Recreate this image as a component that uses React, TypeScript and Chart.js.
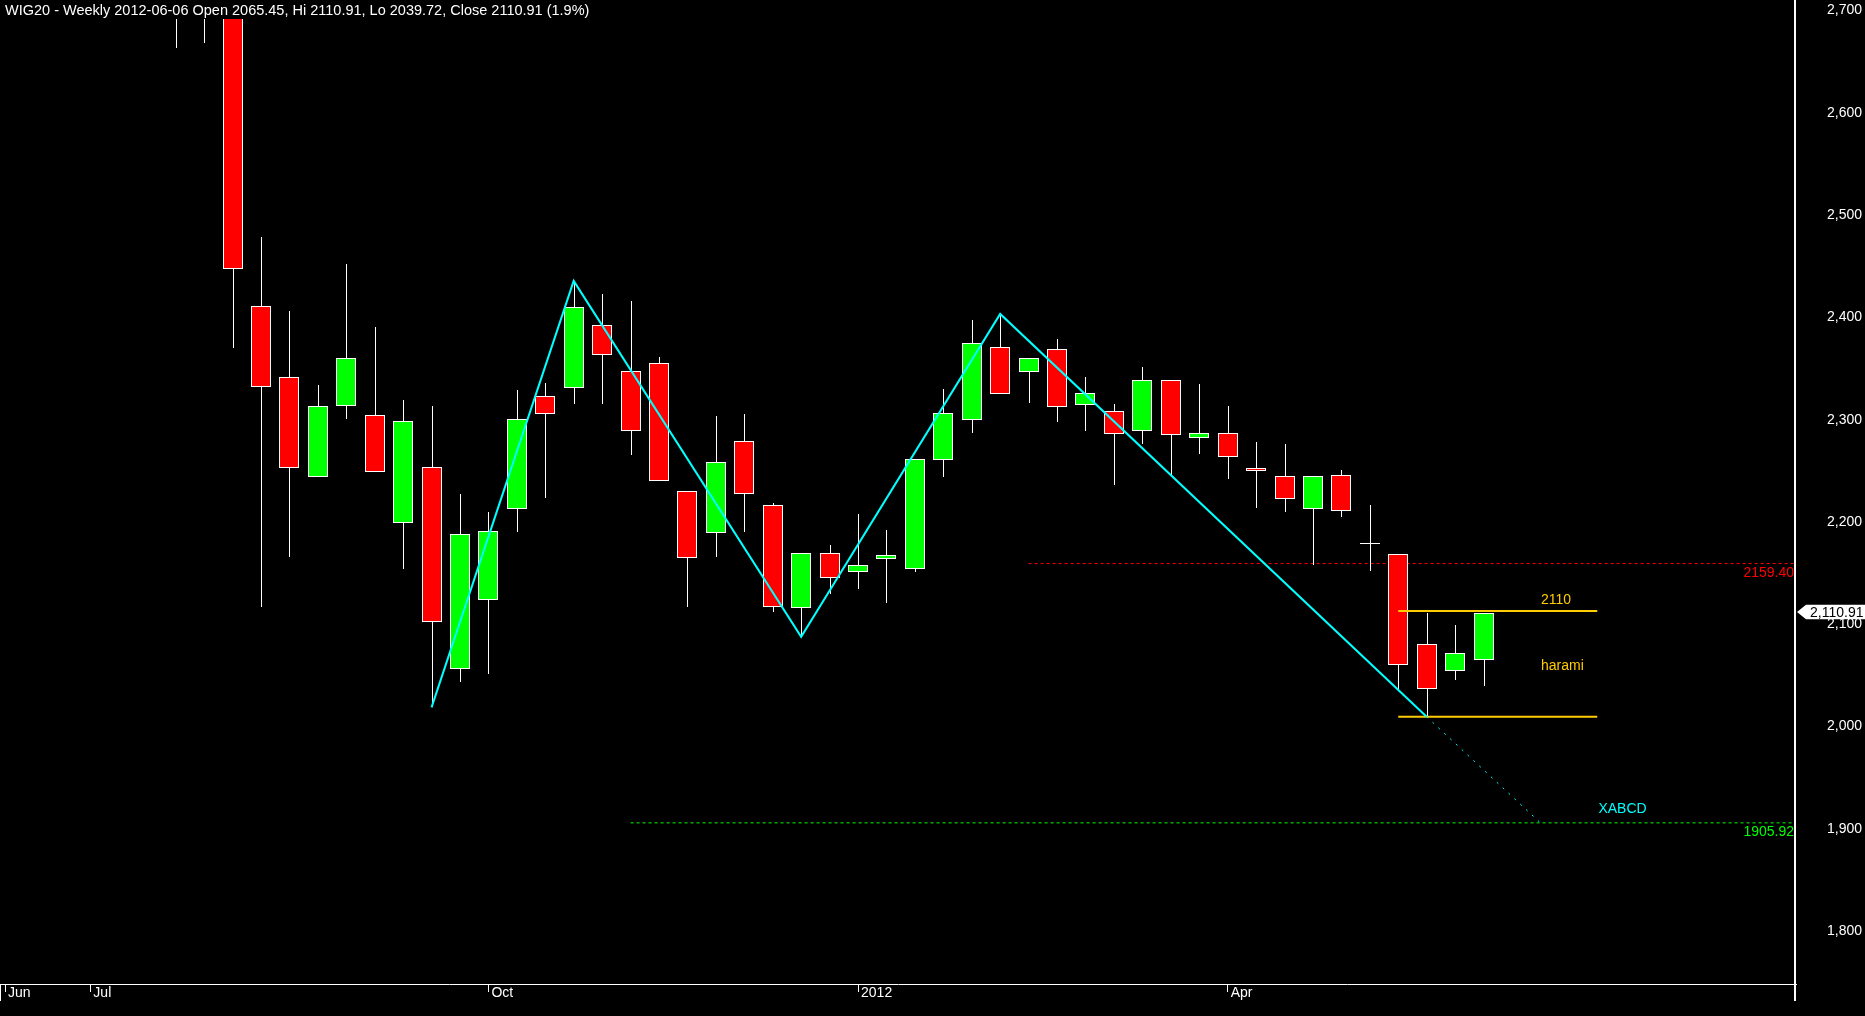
import React, { useEffect, useRef } from 'react';
import { Chart, registerables } from 'chart.js';

Chart.register(...registerables);

const W = 1865;
const H = 1016;

// ---- Weekly WIG20 candles (index 0 = first week of June 2011, index 52 = 2012-06-06) ----
const opens = [
  2830, 2845, 2890, 2858, 2812, 2840, 2762, 2781, 2755, 2411,
  2342, 2244.4, 2313, 2305, 2199, 2253.4, 2056, 2123.5, 2213, 2323,
  2330.7, 2392.4, 2347.3, 2355.2, 2230, 2189, 2279, 2216.3, 2115.5, 2169.3,
  2150.8, 2163.9, 2153.8, 2260.3, 2299.5, 2370.8, 2346.4, 2368.8, 2314.1, 2308.3,
  2288.8, 2338.6, 2281.8, 2286.7, 2253, 2244.8, 2212.4, 2246.2, 2179.1, 2168.3,
  2080.3, 2054.5, 2065.45,
];
const highs = [
  2862, 2905, 2920, 2880, 2860, 2870, 2800, 2808, 2766, 2479,
  2406, 2334.2, 2452, 2391, 2319.4, 2313.5, 2227.3, 2209.8, 2329.3, 2336,
  2435.7, 2423, 2416, 2361.4, 2230, 2303.6, 2305.6, 2218.2, 2169.3, 2177.4,
  2207.8, 2192.1, 2261.7, 2330.1, 2397.6, 2403.4, 2360.1, 2379, 2341.8, 2315.4,
  2351.6, 2338.8, 2334.9, 2313.4, 2278.2, 2276.2, 2244.8, 2250.8, 2216.6, 2168.3,
  2110.6, 2099.2, 2110.91,
];
const lows = [
  2781, 2830, 2842, 2790, 2772, 2745, 2663, 2668, 2370.5, 2117,
  2166, 2244.4, 2300.5, 2249, 2154.5, 2018.8, 2043.6, 2051.2, 2190.5, 2223,
  2315.4, 2315.4, 2265.8, 2240, 2117, 2166, 2190, 2112.2, 2087.8, 2129.2,
  2134.7, 2120.4, 2151.3, 2244.3, 2287.4, 2324.8, 2316.7, 2298, 2289.3, 2236.4,
  2276.5, 2245.9, 2266.8, 2242.3, 2213.9, 2210, 2157.9, 2204.8, 2152.3, 2036.2,
  2009.6, 2045.4, 2039.72,
];
const closes = [
  2845, 2890, 2858, 2812, 2840, 2760, 2781, 2755, 2447, 2332,
  2252.5, 2313, 2360.3, 2249, 2298.7, 2102, 2188.7, 2191, 2300.5, 2305.5,
  2410, 2363, 2288.7, 2240, 2164.4, 2258.3, 2227, 2116.5, 2169.3, 2144.8,
  2157.6, 2167.4, 2261.3, 2306.3, 2374.8, 2324.8, 2360.1, 2312.2, 2325.8, 2285.8,
  2338.6, 2284.8, 2286.7, 2263.2, 2250, 2222.2, 2244.8, 2210.4, 2179.1, 2060.7,
  2036.8, 2071.5, 2110.91,
];

// ---- axes ----
const xTickIndex = [0, 3, 17, 30, 43];
const xTickLabels = ['Jun', 'Jul', 'Oct', '2012', 'Apr'];
const yTickValues = [1800, 1900, 2000, 2100, 2200, 2300, 2400, 2500, 2600, 2700];
const X_MIN = -0.178;
const X_MAX = 62.99;
const Y_MIN = 1748.4;
const Y_MAX = 2710.26;

// ---- drawings ----
const xabcdIndex = [15, 20, 28, 35, 50];
const xabcdValue = [2018.8, 2435.7, 2087.8, 2403.4, 2009.6];
const projIndex = [50, 54];
const projValue = [2009.6, 1905.92];
const resistanceLevel = 2159.4;
const resistanceStart = 36;
const targetLevel = 1905.92;
const targetStart = 22;
const haramiIndex = [49, 56];
const haramiHigh = 2113;
const haramiLow = 2009.6;

const UP = '#00ff00';
const DOWN = '#ff0000';
const CYAN = '#00ffff';
const GOLD = '#ffcc00';
const FONT = '"Liberation Sans", Arial, sans-serif';

const lastI = closes.length - 1;
const pct = ((closes[lastI] - closes[lastI - 1]) / closes[lastI - 1]) * 100;
const titleText = `WIG20 - Weekly 2012-06-06 Open ${opens[lastI].toFixed(2)}, Hi ${highs[lastI].toFixed(2)}, Lo ${lows[lastI].toFixed(2)}, Close ${closes[lastI].toFixed(2)} (${pct.toFixed(1)}%)`;

const textLabels = [
  { text: '2110', x: 54.02, y: 2119.9, color: GOLD },
  { text: 'harami', x: 54.02, y: 2055.3, color: GOLD },
  { text: 'XABCD', x: 56.04, y: 1915.3, color: CYAN },
];

// pixel-snap candle elements so wicks and bodies render crisp
const snapPlugin = {
  id: 'snap',
  beforeDatasetsDraw(chart: any) {
    [0, 1].forEach((di) => {
      const meta = chart.getDatasetMeta(di);
      meta.data.forEach((el: any) => {
        const cx = Math.round(el.x);
        el.x = di === 0 ? cx + 0.5 : cx;
        el.y = Math.round(el.y);
        el.base = Math.round(el.base);
      });
    });
  },
};

const overlayPlugin = {
  id: 'overlay',
  afterDraw(chart: any) {
    const { ctx, chartArea } = chart;
    const xs = chart.scales.x;
    const ys = chart.scales.y;
    ctx.save();
    // frame
    ctx.fillStyle = '#ffffff';
    ctx.fillRect(1794, 0, 2, 1001);
    ctx.fillRect(0, chartArea.bottom, 1, 17);

    // title
    ctx.font = `14.5px ${FONT}`;
    ctx.textAlign = 'left';
    ctx.textBaseline = 'alphabetic';
    ctx.fillStyle = '#ffffff';
    ctx.fillText(titleText, 5, 15);

    // annotation texts
    ctx.font = `14px ${FONT}`;
    for (const l of textLabels) {
      ctx.fillStyle = l.color;
      ctx.fillText(l.text, xs.getPixelForValue(l.x), ys.getPixelForValue(l.y));
    }
    ctx.textAlign = 'right';
    ctx.fillStyle = '#ff0000';
    ctx.fillText(resistanceLevel.toFixed(2), 1794, ys.getPixelForValue(resistanceLevel) + 13);
    ctx.fillStyle = '#00ff00';
    ctx.fillText(targetLevel.toFixed(2), 1794, ys.getPixelForValue(targetLevel) + 13.5);

    // last price marker
    const py = ys.getPixelForValue(closes[lastI]);
    const top = py - 8.4;
    const bot = py + 6.2;
    const mid = (top + bot) / 2;
    ctx.fillStyle = '#ffffff';
    ctx.beginPath();
    ctx.moveTo(1797, mid);
    ctx.lineTo(1806, top);
    ctx.lineTo(W, top);
    ctx.lineTo(W, bot);
    ctx.lineTo(1806, bot);
    ctx.closePath();
    ctx.fill();
    ctx.fillStyle = '#000000';
    ctx.textAlign = 'left';
    ctx.textBaseline = 'middle';
    ctx.fillText(closes[lastI].toLocaleString('en-US', { minimumFractionDigits: 2 }), 1810, py);
    ctx.restore();
  },
};

const CLIP = { left: 0, top: -19, right: 0, bottom: 0 };

export default function App() {
  const ref = useRef<HTMLCanvasElement>(null);
  useEffect(() => {
    document.body.style.margin = '0';
    document.body.style.background = '#000';
    const idx = opens.map((_, i) => i);
    const wickData = idx.map((i) => ({ x: i, y: [lows[i], highs[i]] }));
    const bodyData = idx.map((i) => {
      const o = opens[i];
      const c = closes[i];
      if (Math.abs(o - c) < 1) {
        const m = (o + c) / 2;
        return { x: i, y: [m - 0.6, m + 0.6] };
      }
      return { x: i, y: [o, c] };
    });
    const bodyColors = idx.map((i) => (closes[i] > opens[i] ? UP : closes[i] < opens[i] ? DOWN : '#ffffff'));
    const line = (xsArr: number[], ysArr: number[]) => xsArr.map((x, i) => ({ x, y: ysArr[i] }));

    const chart = new Chart(ref.current as HTMLCanvasElement, {
      type: 'bar',
      data: {
        datasets: [
          {
            type: 'bar',
            label: 'wicks',
            data: wickData as any,
            backgroundColor: '#ffffff',
            borderWidth: 0,
            barThickness: 1,
            grouped: false,
            inflateAmount: 0,
            order: 3,
            clip: CLIP as any,
          } as any,
          {
            type: 'bar',
            label: 'bodies',
            data: bodyData as any,
            backgroundColor: bodyColors,
            borderColor: '#ffffff',
            borderWidth: 1,
            borderSkipped: false,
            barThickness: 20,
            grouped: false,
            inflateAmount: 0,
            order: 2,
            clip: CLIP as any,
          } as any,
          {
            type: 'line',
            label: 'XABCD',
            data: line(xabcdIndex, xabcdValue),
            borderColor: CYAN,
            borderWidth: 2,
            pointRadius: 0,
            tension: 0,
            fill: false,
            order: 1,
          } as any,
          {
            type: 'line',
            label: 'projection',
            data: line(projIndex, projValue),
            borderColor: CYAN,
            borderWidth: 1,
            borderDash: [2, 6],
            pointRadius: 0,
            fill: false,
            order: 1,
          } as any,
          {
            type: 'line',
            label: 'resistance',
            data: line([resistanceStart, X_MAX], [resistanceLevel, resistanceLevel]),
            borderColor: '#ff0000',
            borderWidth: 1,
            borderDash: [3, 3],
            pointRadius: 0,
            fill: false,
            order: 4,
          } as any,
          {
            type: 'line',
            label: 'target',
            data: line([targetStart, X_MAX], [targetLevel, targetLevel]),
            borderColor: '#00ff00',
            borderWidth: 1,
            borderDash: [3, 3],
            pointRadius: 0,
            fill: false,
            order: 4,
          } as any,
          {
            type: 'line',
            label: 'haramiHigh',
            data: line(haramiIndex, [haramiHigh, haramiHigh]),
            borderColor: GOLD,
            borderWidth: 2,
            pointRadius: 0,
            fill: false,
            order: 1,
          } as any,
          {
            type: 'line',
            label: 'haramiLow',
            data: line(haramiIndex, [haramiLow, haramiLow]),
            borderColor: GOLD,
            borderWidth: 2,
            pointRadius: 0,
            fill: false,
            order: 1,
          } as any,
        ],
      },
      options: {
        responsive: false,
        maintainAspectRatio: false,
        devicePixelRatio: 1,
        animation: false,
        events: [],
        layout: { padding: 0 },
        plugins: {
          legend: { display: false },
          tooltip: { enabled: false },
          title: { display: false },
        },
        scales: {
          x: {
            type: 'linear',
            position: 'bottom',
            min: X_MIN,
            max: X_MAX,
            offset: false,
            afterBuildTicks: (s: any) => {
              s.ticks = xTickIndex.map((v) => ({ value: v }));
            },
            afterFit: (s: any) => {
              s.height = 32;
              s.paddingLeft = 0;
              s.paddingRight = 0;
              s.paddingTop = 0;
              s.paddingBottom = 0;
            },
            grid: {
              display: true,
              drawOnChartArea: false,
              drawTicks: true,
              tickLength: 8,
              color: '#ffffff',
              tickColor: '#ffffff',
              tickWidth: 1,
              offset: false,
            },
            border: { display: true, color: '#ffffff', width: 1 },
            ticks: {
              autoSkip: false,
              maxRotation: 0,
              minRotation: 0,
              align: 'start',
              labelOffset: 3,
              padding: -7,
              color: '#ffffff',
              font: { family: FONT, size: 14 },
              callback: (_v: any, i: number) => xTickLabels[i] ?? '',
            },
          } as any,
          y: {
            type: 'linear',
            position: 'right',
            min: Y_MIN,
            max: Y_MAX,
            afterBuildTicks: (s: any) => {
              s.ticks = yTickValues.map((v) => ({ value: v }));
            },
            afterFit: (s: any) => {
              s.width = 69;
              s.paddingLeft = 0;
              s.paddingRight = 0;
              s.paddingTop = 0;
              s.paddingBottom = 0;
            },
            grid: { display: false, drawTicks: false },
            border: { display: false },
            ticks: {
              padding: 31,
              crossAlign: 'near',
              color: '#ffffff',
              font: { family: FONT, size: 14 },
              callback: (v: any) => Number(v).toLocaleString('en-US'),
            },
          } as any,
        },
      },
      plugins: [snapPlugin, overlayPlugin],
    });
    return () => chart.destroy();
  }, []);

  return (
    <div style={{ width: W, height: H, background: '#000', position: 'relative', overflow: 'hidden' }}>
      <canvas ref={ref} width={W} height={H} style={{ display: 'block', width: W, height: H }} />
    </div>
  );
}
